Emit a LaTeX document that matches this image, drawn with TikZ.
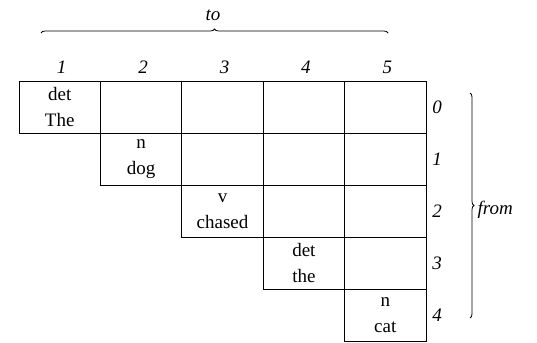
\documentclass[tikz,border=0pt]{standalone}
\usepackage{fontspec}
\setmainfont{Liberation Serif}
\usetikzlibrary{decorations.pathreplacing}
\tikzset{
    every node/.style={font=\fontsize{19}{26}\selectfont},
    cell/.style={draw, minimum width=81.4pt, minimum height=52pt, inner sep=0pt, align=center, line width=0.8pt},
    idx/.style={font=\fontsize{19}{22}\selectfont\itshape},
    span/.style={decorate, decoration={brace, amplitude=4pt}, line width=0.8pt}
}

\begin{document}
\begin{tikzpicture}[x=1pt, y=-1pt]
    \useasboundingbox (0,0) rectangle (537,342);
    % diagonal cells with tag and word
    \foreach \r/\tag/\word in {0/det/The, 1/n/dog, 2/v/chased, 3/det/the, 4/n/cat} {
        \pgfmathtruncatemacro\c{\r+1}
        \node[cell] (c\r\c) at ({19+(\c-0.5)*81.4}, {81+(\r+0.5)*52}) {\tag\\\word};
    }
    % empty cells
    \foreach \r in {0,...,3} {
        \foreach \c in {1,...,5} {
            \ifnum\c>\numexpr\r+1\relax
                \node[cell] (c\r\c) at ({19+(\c-0.5)*81.4}, {81+(\r+0.5)*52}) {};
            \fi
        }
    }
    % indices
    \foreach \c in {1,...,5}
        \node[idx] (col\c) at ({21+(\c-0.5)*81.4}, 67) {\c};
    \foreach \r in {0,...,4}
        \node[idx] (row\r) at (437, {81+(\r+0.5)*52}) {\r};

    % braces
    \coordinate (toL) at (41,33);
    \coordinate (toR) at (388,33);
    \coordinate (fromT) at (470,93);
    \coordinate (fromB) at (470,318);
    \draw[span] (toL) -- (toR);
    \draw[span] (fromT) -- (fromB);
    \node[idx] (to) at (213,15) {to};
    \node[idx, anchor=west] (from) at (474,210) {from};
\end{tikzpicture}
\end{document}
